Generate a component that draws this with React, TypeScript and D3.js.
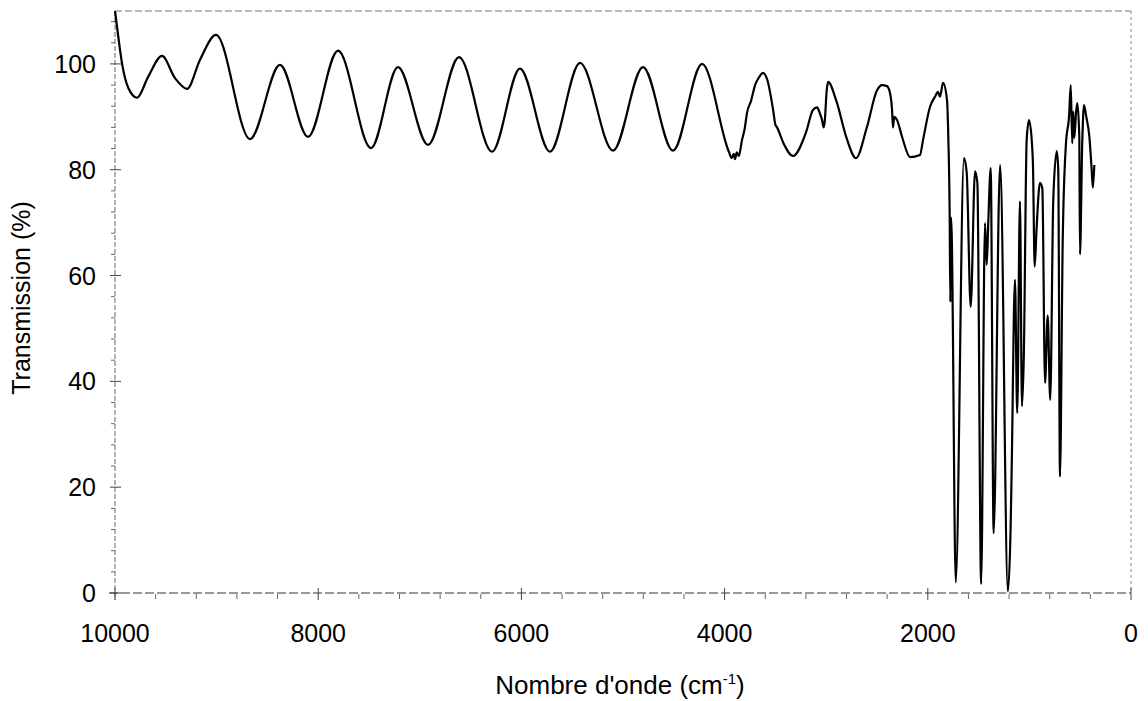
import React from "react";
import * as d3 from "d3";

const wavenumbers: number[] = [
  10000, 9960, 9930, 9870, 9783, 9675, 9537, 9409, 9291, 9163, 9006, 8671, 8376, 8100, 7805, 7480,
  7215, 6919, 6614, 6289, 6014, 5719, 5423, 5098, 4803, 4508, 4222, 3960, 3930, 3910, 3898, 3880,
  3860, 3830, 3800, 3780, 3740, 3700, 3660, 3622, 3580, 3520, 3500, 3484, 3420, 3327, 3200, 3130,
  3090, 3060, 3041, 3025, 3015, 2995, 2982, 2900, 2800, 2707, 2600, 2500, 2451, 2402, 2372, 2352,
  2343, 2330, 2303, 2250, 2175, 2077, 2047, 1978, 1929, 1900, 1880, 1850, 1811, 1798, 1785, 1778,
  1772, 1765, 1725, 1644, 1617, 1578, 1535, 1512, 1475, 1437, 1420, 1404, 1381, 1352, 1289, 1257,
  1250, 1212, 1184, 1174, 1142, 1120, 1093, 1073, 1055, 1027, 1004, 975, 965, 948, 930, 896, 873,
  846, 820, 795, 765, 731, 716, 699, 672, 640, 610, 593, 578, 568, 558, 540, 528, 509, 502, 480,
  463, 440, 410, 387, 375, 361,
];

const transmission: number[] = [
  110, 104, 100, 95.5, 93.6, 97.5, 101.5, 97.3, 95.3, 100.8, 105.5, 85.8, 99.8, 86.2, 102.5, 84.1,
  99.4, 84.7, 101.3, 83.4, 99.1, 83.4, 100.2, 83.6, 99.4, 83.6, 100, 83.5, 82.2, 83.0, 82.0, 83.3,
  82.6, 85.5, 88, 90.7, 93, 96, 97.5, 98.3, 97, 91, 88.5, 88, 85, 82.6, 87, 91.3,
  91.8, 90.5, 89.4, 88, 89, 95, 96.6, 93, 86, 82.2, 88, 95, 96, 95.8, 94.5, 91.3,
  88, 90, 89.4, 86, 82.4, 82.8, 85.6, 91.9, 93.8, 94.7, 93.8, 96.4, 93.2, 86, 72, 55,
  71, 68, 2, 82.2, 79.4, 54.1, 79.7, 77.5, 1.7, 69.9, 62, 70.5, 80.3, 11.3, 80.9, 52.9,
  41.5, 0.3, 13.2, 24, 59.2, 34, 74, 35.3, 44.7, 85.6, 89.4, 85, 81, 61.7, 68.6, 77.5, 76.5,
  39.7, 52.5, 36.5, 74.3, 83.5, 80, 22, 66.7, 85, 90, 96, 85, 91, 86, 91, 92.6, 86.3, 64, 85,
  92.2, 90, 86.3, 80, 76.6, 80.9,
];

const xMajorTicks: number[] = [10000, 8000, 6000, 4000, 2000, 0];
const yMajorTicks: number[] = [0, 20, 40, 60, 80, 100];

const W = 1148;
const H = 701;
const FONT = "Liberation Sans, Arial, sans-serif";

export default function App() {
  const x = d3.scaleLinear().domain([10000, 0]).range([115, 1131]);
  const y = d3.scaleLinear().domain([0, 110]).range([593, 11]);

  const pts: [number, number][] = wavenumbers.map((w, i) => [w, transmission[i]]);
  const line = d3
    .line<[number, number]>()
    .x((d) => x(d[0]))
    .y((d) => y(d[1]))
    .curve(d3.curveMonotoneX);

  const xMinor = d3.range(10000, -1, -400).filter((v) => v % 2000 !== 0);
  const yMinor = d3.range(0, 110.1, 4).filter((v) => v % 20 !== 0);

  const [x0, x1] = x.range();
  const [yb, yt] = y.range();

  return (
    <svg
      width={W}
      height={H}
      style={{ position: "absolute", left: 0, top: 0, background: "#fff" }}
      fontFamily={FONT}
    >
      <rect x={0} y={0} width={W} height={H} fill="#fff" />
      {/* frame */}
      <line x1={x0} x2={x1} y1={yt} y2={yt} stroke="#777" strokeWidth={1} strokeDasharray="7 3" />
      <line x1={x1} x2={x1} y1={yt} y2={yb} stroke="#888" strokeWidth={1} strokeDasharray="3 3" />
      <line x1={x0} x2={x0} y1={yt} y2={yb + 7} stroke="#666" strokeWidth={1} strokeDasharray="5 2" />
      <line x1={x0 - 6} x2={x1} y1={yb} y2={yb} stroke="#333" strokeWidth={1} strokeDasharray="9 3" />

      {/* y ticks */}
      {yMajorTicks.map((v) => (
        <g key={"ym" + v}>
          <line x1={x0 - 5} x2={x0 + 6} y1={y(v)} y2={y(v)} stroke="#444" strokeWidth={1} />
          <text x={96} y={y(v) + 9} fontSize={25} textAnchor="end" fill="#000">
            {v}
          </text>
        </g>
      ))}
      {yMinor.map((v) => (
        <line key={"yn" + v} x1={x0 - 4} x2={x0} y1={y(v)} y2={y(v)} stroke="#666" strokeWidth={1} />
      ))}

      {/* x ticks */}
      {xMajorTicks.map((v) => (
        <g key={"xm" + v}>
          <line x1={x(v)} x2={x(v)} y1={yb - 5} y2={yb + 7} stroke="#444" strokeWidth={1} />
          <text x={x(v)} y={642} fontSize={25} textAnchor="middle" fill="#000">
            {v}
          </text>
        </g>
      ))}
      {xMinor.map((v) => (
        <line key={"xn" + v} x1={x(v)} x2={x(v)} y1={yb + 1} y2={yb + 6} stroke="#666" strokeWidth={1} />
      ))}

      {/* spectrum */}
      <path d={line(pts) || ""} fill="none" stroke="#000" strokeWidth={2.2} strokeLinejoin="round" />

      {/* axis titles */}
      <text
        transform={`translate(30, 298) rotate(-90)`}
        fontSize={25}
        textAnchor="middle"
        fill="#000"
      >
        Transmission (%)
      </text>
      <text x={620} y={694} fontSize={26} textAnchor="middle" fill="#000">
        Nombre d'onde (cm
        <tspan dy={-10} fontSize={15}>
          -1
        </tspan>
        <tspan dy={10}>)</tspan>
      </text>
    </svg>
  );
}
